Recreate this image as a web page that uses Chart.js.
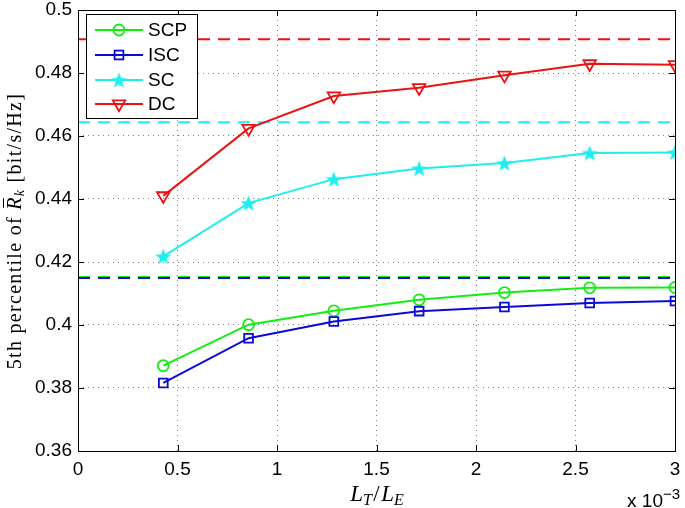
<!DOCTYPE html>
<html>
<head>
<meta charset="utf-8">
<script src="https://cdn.jsdelivr.net/npm/chart.js@4.4.1/dist/chart.umd.min.js"></script>
<style>
  html, body { margin: 0; padding: 0; background: #fff; }
  #wrap { width: 685px; height: 508px; }
</style>
</head>
<body>
<div id="wrap"><canvas id="c" width="685" height="508"></canvas></div>
<script>
// ---- data (x in units of 1e-3) ----
const xValues = [0.4286, 0.8571, 1.2857, 1.7143, 2.1429, 2.5714, 3.0];
const scpValues = [0.3871, 0.4001, 0.4045, 0.4080, 0.4103, 0.4118, 0.4119];
const iscValues = [0.3816, 0.3958, 0.4011, 0.4044, 0.4057, 0.4070, 0.4076];
const scValues  = [0.4218, 0.4387, 0.4463, 0.4497, 0.4514, 0.4546, 0.4548];
const dcValues  = [0.4410, 0.4624, 0.4727, 0.4753, 0.4793, 0.4829, 0.4826];
const scpLimit = 0.4152;
const iscLimit = 0.4149;
const scLimit  = 0.4644;
const dcLimit  = 0.4907;
const limitX = [0, 3];
const xTickLabels = ['0', '0.5', '1', '1.5', '2', '2.5', '3'];
const yTickLabels = ['0.36', '0.38', '0.4', '0.42', '0.44', '0.46', '0.48', '0.5'];
const seriesNames = ['SCP', 'ISC', 'SC', 'DC'];

const GREEN = '#12ee12';
const BLUE = '#0a0ad8';
const CYAN = '#1eeeee';
const RED = '#ee1111';

// filled pentagram marker
function makeStar(color, R) {
  const s = Math.ceil(R * 2 + 2);
  const cv = document.createElement('canvas');
  cv.width = s; cv.height = s;
  const g = cv.getContext('2d');
  const cx = s / 2, cy = s / 2 + 0.8;
  const r = R * 0.42;
  g.beginPath();
  for (let i = 0; i < 10; i++) {
    const rad = (i % 2 === 0) ? R : r;
    const a = -Math.PI / 2 + i * Math.PI / 5;
    const px = cx + rad * Math.cos(a), py = cy + rad * Math.sin(a);
    if (i === 0) g.moveTo(px, py); else g.lineTo(px, py);
  }
  g.closePath();
  g.fillStyle = color;
  g.fill();
  return cv;
}
const starImg = makeStar(CYAN, 8.5);

const pts = (ys) => xValues.map((x, i) => ({ x: x, y: ys[i] }));
const lim = (v) => limitX.map(x => ({ x: x, y: v }));

const dashed = (data, color, order) => ({
  data: data, borderColor: color, borderWidth: 2, borderDash: [12, 8],
  pointRadius: 0, fill: false, order: order
});

const datasets = [
  { label: 'SCP', data: pts(scpValues), borderColor: GREEN, borderWidth: 2,
    pointStyle: 'circle', pointRadius: 5.5, pointBorderWidth: 1.8,
    pointBackgroundColor: 'rgba(0,0,0,0)', pointBorderColor: GREEN, order: 4 },
  { label: 'ISC', data: pts(iscValues), borderColor: BLUE, borderWidth: 2,
    pointStyle: 'rect', pointRadius: 6.2, pointBorderWidth: 1.8,
    pointBackgroundColor: 'rgba(0,0,0,0)', pointBorderColor: BLUE, order: 3 },
  { label: 'SC', data: pts(scValues), borderColor: CYAN, borderWidth: 2,
    pointStyle: starImg, pointRadius: 8, order: 2 },
  { label: 'DC', data: pts(dcValues), borderColor: RED, borderWidth: 2,
    pointStyle: 'triangle', pointRotation: 180, pointRadius: 7.2, pointBorderWidth: 1.8,
    pointBackgroundColor: 'rgba(0,0,0,0)', pointBorderColor: RED, order: 1 },
  dashed(lim(scpLimit), GREEN, 9),
  dashed(lim(iscLimit), BLUE, 8),
  dashed(lim(scLimit), CYAN, 7),
  dashed(lim(dcLimit), RED, 6),
];

const SANS = '"Liberation Sans", Arial, Helvetica, sans-serif';
const SERIF = '"Liberation Serif", "Times New Roman", serif';

const framePlugin = {
  id: 'frame',
  beforeDatasetsDraw(chart) {
    const { ctx, chartArea: a, scales } = chart;
    ctx.save();
    ctx.strokeStyle = '#000';
    ctx.lineWidth = 1;
    const L = 6;
    ctx.beginPath();
    scales.x.ticks.forEach(t => {
      const px = Math.round(scales.x.getPixelForValue(t.value)) + 0.5;
      ctx.moveTo(px, a.bottom); ctx.lineTo(px, a.bottom - L);
      ctx.moveTo(px, a.top); ctx.lineTo(px, a.top + L);
    });
    scales.y.ticks.forEach(t => {
      const py = Math.round(scales.y.getPixelForValue(t.value)) + 0.5;
      ctx.moveTo(a.left, py); ctx.lineTo(a.left + L, py);
      ctx.moveTo(a.right, py); ctx.lineTo(a.right - L, py);
    });
    ctx.stroke();
    ctx.restore();
  },
  afterDraw(chart) {
    const { ctx, chartArea: a } = chart;
    ctx.save();
    ctx.strokeStyle = '#000';
    ctx.lineWidth = 1;
    ctx.strokeRect(Math.round(a.left) + 0.5, Math.round(a.top) + 0.5,
      Math.round(a.right - a.left), Math.round(a.bottom - a.top));

    // legend
    const bx = 86.5, by = 14.5, bw = 111, bh = 104;
    ctx.fillStyle = '#fff';
    ctx.fillRect(bx, by, bw, bh);
    ctx.strokeRect(bx, by, bw, bh);
    const rows = [30, 55, 80, 104];
    const colors = [GREEN, BLUE, CYAN, RED];
    rows.forEach((y, i) => {
      ctx.strokeStyle = colors[i];
      ctx.lineWidth = 2;
      ctx.setLineDash([]);
      ctx.beginPath(); ctx.moveTo(95, y); ctx.lineTo(143, y); ctx.stroke();
      const mx = 119;
      ctx.lineWidth = 1.8;
      if (i === 0) {
        ctx.beginPath(); ctx.arc(mx, y, 5.5, 0, Math.PI * 2); ctx.stroke();
      } else if (i === 1) {
        ctx.strokeRect(mx - 4.4, y - 4.4, 8.8, 8.8);
      } else if (i === 2) {
        ctx.drawImage(starImg, mx - starImg.width / 2, y - starImg.height / 2);
      } else {
        const r = 7.2;
        ctx.beginPath();
        ctx.moveTo(mx, y + r);
        ctx.lineTo(mx - r * 0.866, y - r / 2);
        ctx.lineTo(mx + r * 0.866, y - r / 2);
        ctx.closePath(); ctx.stroke();
      }
      ctx.fillStyle = '#000';
      ctx.font = '19px ' + SANS;
      ctx.textBaseline = 'middle';
      ctx.textAlign = 'left';
      ctx.fillText(seriesNames[i], 148, y + 1);
    });

    // x axis title: L_T / L_E
    const it = 'italic 23px ' + SERIF;
    const its = 'italic 16px ' + SERIF;
    const rg = '23px ' + SERIF;
    const segs = [
      { t: 'L', f: it, dy: 0 }, { t: 'T', f: its, dy: 4 },
      { t: '/', f: rg, dy: 0, pad: 1.5 },
      { t: 'L', f: it, dy: 0 }, { t: 'E', f: its, dy: 4 }
    ];
    let tw = 0;
    segs.forEach(s => { ctx.font = s.f; s.w = ctx.measureText(s.t).width + (s.pad || 0) * 2; tw += s.w; });
    let cx = 377 - tw / 2;
    ctx.fillStyle = '#000';
    ctx.textBaseline = 'alphabetic';
    segs.forEach(s => { ctx.font = s.f; ctx.fillText(s.t, cx + (s.pad || 0), 501 + s.dy); cx += s.w; });

    // exponent label
    ctx.font = '19px ' + SANS;
    ctx.textAlign = 'right';
    ctx.fillText('x 10', 663, 507);
    ctx.font = '15px ' + SANS;
    ctx.textAlign = 'left';
    ctx.fillText('\u22123', 663, 499);

    // y axis title
    ctx.save();
    ctx.translate(21, 231);
    ctx.rotate(-Math.PI / 2);
    const yf = '20px ' + SERIF, yfi = 'italic 20px ' + SERIF, yfs = 'italic 14px ' + SERIF;
    const ys = [
      { t: '5th percentile of ', f: yf, dy: 0 },
      { t: 'R', f: yfi, dy: 0, bar: true },
      { t: 'k', f: yfs, dy: 3 },
      { t: ' [bit/s/Hz]', f: yf, dy: 0 }
    ];
    ctx.letterSpacing = '1.3px';
    let yw = 0;
    ys.forEach(s => { ctx.font = s.f; s.w = ctx.measureText(s.t).width; yw += s.w; });
    let yx = -yw / 2;
    ctx.textAlign = 'left';
    ys.forEach(s => {
      ctx.font = s.f;
      ctx.fillText(s.t, yx, s.dy);
      if (s.bar) {
        ctx.strokeStyle = '#000'; ctx.lineWidth = 1;
        ctx.beginPath(); ctx.moveTo(yx + 2, -17.5); ctx.lineTo(yx + s.w - 2, -17.5); ctx.stroke();
      }
      yx += s.w;
    });
    ctx.restore();
    ctx.restore();
  }
};

new Chart(document.getElementById('c'), {
  type: 'line',
  data: { datasets: datasets },
  plugins: [framePlugin],
  options: {
    responsive: false,
    animation: false,
    devicePixelRatio: 1,
    layout: { padding: { top: 6, right: 7, left: 0, bottom: 0 } },
    plugins: { legend: { display: false }, tooltip: { enabled: false } },
    elements: { line: { tension: 0 } },
    scales: {
      x: {
        type: 'linear', min: 0, max: 3,
        afterFit: (s) => { s.height = 57; s.paddingLeft = 0; s.paddingRight = 0; },
        ticks: {
          stepSize: 0.5, padding: 7, maxRotation: 0, color: '#000',
          font: { family: SANS, size: 19 },
          callback: (v, i) => xTickLabels[i]
        },
        grid: { color: '#808080', lineWidth: 1, drawTicks: false },
        border: { display: false, dash: [1, 4] }
      },
      y: {
        type: 'linear', min: 0.36, max: 0.5,
        afterFit: (s) => { s.width = 78; s.paddingTop = 0; s.paddingBottom = 0; },
        ticks: {
          stepSize: 0.02, padding: 6, color: '#000',
          font: { family: SANS, size: 19 },
          callback: (v, i) => yTickLabels[i]
        },
        grid: { color: '#808080', lineWidth: 1, drawTicks: false },
        border: { display: false, dash: [1, 4] }
      }
    }
  }
});
</script>
</body>
</html>
